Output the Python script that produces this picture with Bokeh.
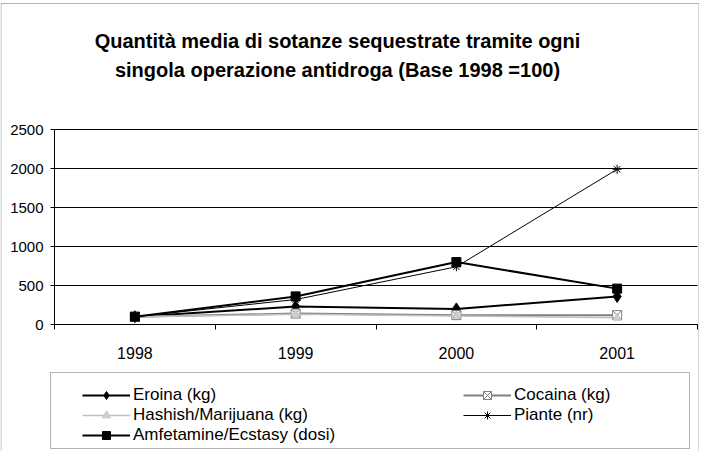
from bokeh.plotting import figure
from bokeh.models import (Range1d, FixedTicker, Label, Legend, LegendItem,
                          BoxAnnotation, LinearAxis)
from bokeh.embed import file_html
from bokeh.resources import INLINE

# ---------------- data ----------------
years = ["1998", "1999", "2000", "2001"]
eroina = [100, 230, 200, 360]
cocaina = [100, 140, 120, 120]
hashish = [100, 130, 110, 85]
piante = [100, 320, 740, 1990]
amfetamine = [100, 360, 800, 460]
y_ticks = [0, 500, 1000, 1500, 2000, 2500]
series_names = ["Eroina (kg)", "Cocaina (kg)", "Hashish/Marijuana (kg)",
                "Piante (nr)", "Amfetamine/Ecstasy (dosi)"]
title_lines = ["Quantità media di sotanze sequestrate tramite ogni",
               "singola operazione antidroga (Base 1998 =100)"]

FONT = "Liberation Sans"

# ---------------- layout (pixels inside the figure) ----------------
FIG_W, FIG_H = 699, 451
PL, PR, PT, PB = 54, 697, 129, 324          # plot area
ncat = len(years)
ymax = y_ticks[-1]
sx = (PR - PL) / ncat
sy = (PB - PT) / ymax
x_start, x_end = -PL / sx, (FIG_W - PL) / sx
y_start, y_end = -(FIG_H - PB) / sy, PB / sy


def X(fx):
    return x_start + fx / sx


def Y(fy):
    return y_end - fy / sy


xs = [i + 0.5 for i in range(ncat)]

p = figure(width=FIG_W, height=FIG_H, output_backend="svg", toolbar_location=None,
           x_range=Range1d(x_start, x_end), y_range=Range1d(y_start, y_end),
           x_axis_location=None, y_axis_location=None, title=None,
           min_border=0, background_fill_color="white", border_fill_color="white")
p.outline_line_color = None
p.xgrid.visible = False
p.ygrid.visible = False

# horizontal gridlines of the plot area
p.segment(x0=[0] * len(y_ticks), y0=y_ticks, x1=[ncat] * len(y_ticks), y1=y_ticks,
          line_color="black", line_width=1)

# x axis: labels centred in categories, tick marks between them
xaxis = LinearAxis(fixed_location=0, bounds=(0, ncat),
                   ticker=FixedTicker(ticks=xs, minor_ticks=list(range(ncat + 1))))
xaxis.major_label_overrides = {x: y for x, y in zip(xs, years)}
xaxis.major_tick_in = 0
xaxis.major_tick_out = 0
xaxis.minor_tick_in = 0
xaxis.minor_tick_out = 5
xaxis.minor_tick_line_color = "black"
xaxis.axis_line_color = "black"
xaxis.major_label_standoff = 17
xaxis.major_label_text_font = FONT
xaxis.major_label_text_font_size = "16px"
xaxis.major_label_text_color = "black"
p.add_layout(xaxis, "below")

yaxis = LinearAxis(fixed_location=0, bounds=(0, ymax),
                   ticker=FixedTicker(ticks=y_ticks))
yaxis.major_tick_in = 0
yaxis.major_tick_out = 4
yaxis.minor_tick_line_color = None
yaxis.axis_line_color = "black"
yaxis.major_tick_line_color = "black"
yaxis.major_label_standoff = 7
yaxis.major_label_text_font = FONT
yaxis.major_label_text_font_size = "15px"
yaxis.major_label_text_color = "black"
p.add_layout(yaxis, "left")

# ---------------- series ----------------
styles = [
    (eroina, "black", 2, "diamond", "black", 12),
    (cocaina, "#808080", 2, "square_x", "white", 9),
    (hashish, "#c0c0c0", 1.5, "triangle", "#d0d0d0", 8),
    (piante, "black", 1, "asterisk", "black", 9),
    (amfetamine, "black", 2, "square", "black", 9),
]
items = []
for name, (vals, lc, lw, mk, fc, sz) in zip(series_names, styles):
    l = p.line(xs, vals, line_color=lc, line_width=lw)
    s = p.scatter(xs, vals, marker=mk, size=sz, line_color=lc, fill_color=fc,
                  line_width=1)
    items.append(LegendItem(label=name, renderers=[l, s]))

# outer chart border and legend box
p.add_layout(BoxAnnotation(left=X(0.5), right=X(698.5), top=Y(3), bottom=Y(FIG_H + 5),
                           fill_color=None, line_color="black", line_width=1))
p.add_layout(BoxAnnotation(left=X(50), right=X(689), top=Y(372), bottom=Y(448),
                           fill_color=None, line_color="black", line_width=1))

# legend (column-major order so the two columns read row by row)
order = [0, 2, 4, 1, 3]
legend = Legend(items=[items[i] for i in order], ncols=2, orientation="vertical",
                location=(82, 6), border_line_color=None,
                background_fill_alpha=0, padding=0, margin=0, spacing=0,
                glyph_width=48, glyph_height=20, label_height=20,
                label_standoff=3, label_width=330,
                label_text_font=FONT, label_text_font_size="17px",
                label_text_color="black")
p.add_layout(legend)

# title
for text, fy in zip(title_lines, [40, 69]):
    p.add_layout(Label(x=X(337), y=Y(fy), text=text,
                       text_align="center", text_baseline="middle",
                       text_font=FONT, text_font_style="bold",
                       text_font_size="20px", text_color="black"))

open("out.html", "w").write(file_html(p, INLINE))
